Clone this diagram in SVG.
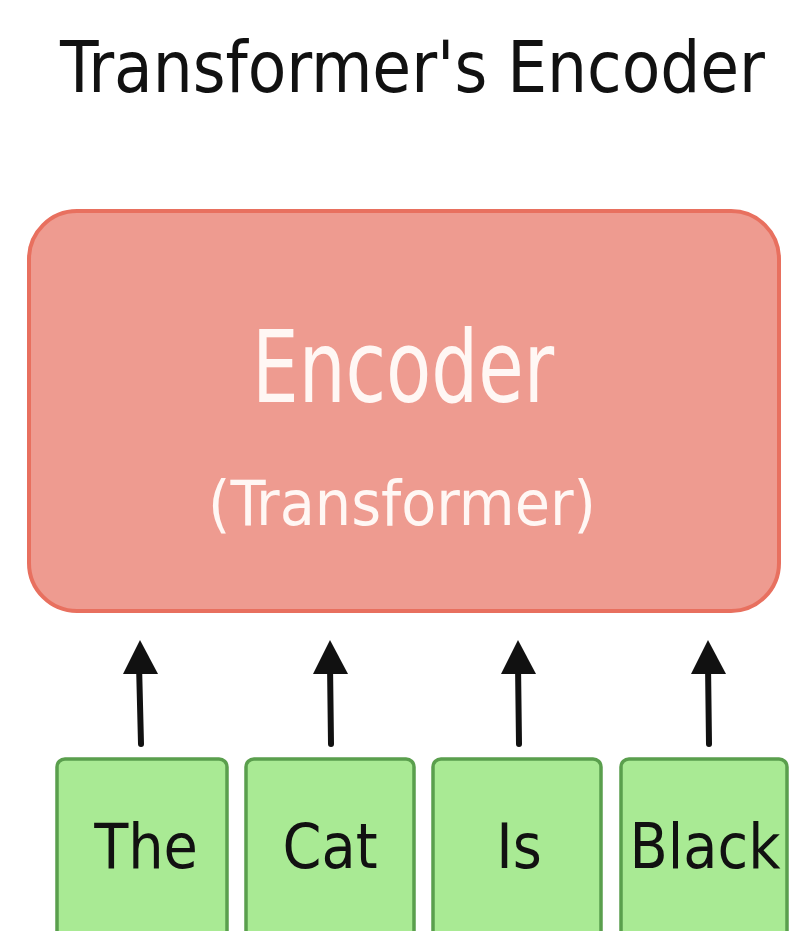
<svg xmlns="http://www.w3.org/2000/svg" width="789" height="931" viewBox="0 0 789 931">
  <style>
    .title { font-family: "DejaVu Sans Condensed", "Liberation Sans", sans-serif; font-size: 72px; fill: #111; }
    .enc { font-family: "DejaVu Sans Condensed", "Liberation Sans", sans-serif; fill: #fff7f4; }
    .token rect { fill: #a9ea94; stroke: #5a9f4d; stroke-width: 3.5; }
    .token text { font-family: "DejaVu Sans Condensed", "Liberation Sans", sans-serif; font-size: 62px; fill: #111; text-anchor: middle; }
    .arrow { stroke: #111; stroke-width: 6; stroke-linecap: round; fill: none; }
    .head { fill: #111; }
  </style>
  <rect width="789" height="931" fill="#ffffff"/>

  <text class="title" x="60" y="92" textLength="705" lengthAdjust="spacingAndGlyphs">Transformer's Encoder</text>

  <g id="encoder">
    <rect x="29" y="211" width="750" height="400" rx="48" ry="48" fill="#ee9b90" stroke="#e8705f" stroke-width="4"/>
    <text class="enc" x="252" y="402" font-size="100" textLength="302" lengthAdjust="spacingAndGlyphs">Encoder</text>
    <text class="enc" x="208" y="525" font-size="62" textLength="388" lengthAdjust="spacingAndGlyphs">(Transformer)</text>
  </g>

  <!-- input arrows: shaft plus filled triangular head -->
  <g id="connectors">
    <path class="arrow" d="M141,744 L139,664"/>
    <path class="arrow" d="M331,744 L330,664"/>
    <path class="arrow" d="M519,744 L518,664"/>
    <path class="arrow" d="M709,744 L708,664"/>
    <path class="head" d="M123,674 L140,640 L158,674 Z"/>
    <path class="head" d="M313,674 L330,640 L348,674 Z"/>
    <path class="head" d="M501,674 L518,640 L536,674 Z"/>
    <path class="head" d="M691,674 L708,640 L726,674 Z"/>
  </g>

  <g id="token-the" class="token">
    <rect x="57" y="759" width="170" height="190" rx="8"/>
    <text x="146" y="868">The</text>
  </g>
  <g id="token-cat" class="token">
    <rect x="246" y="759" width="168" height="190" rx="8"/>
    <text x="330" y="868">Cat</text>
  </g>
  <g id="token-is" class="token">
    <rect x="433" y="759" width="168" height="190" rx="8"/>
    <text x="519" y="868">Is</text>
  </g>
  <g id="token-black" class="token">
    <rect x="621" y="759" width="166" height="190" rx="8"/>
    <text x="705" y="868">Black</text>
  </g>
</svg>
